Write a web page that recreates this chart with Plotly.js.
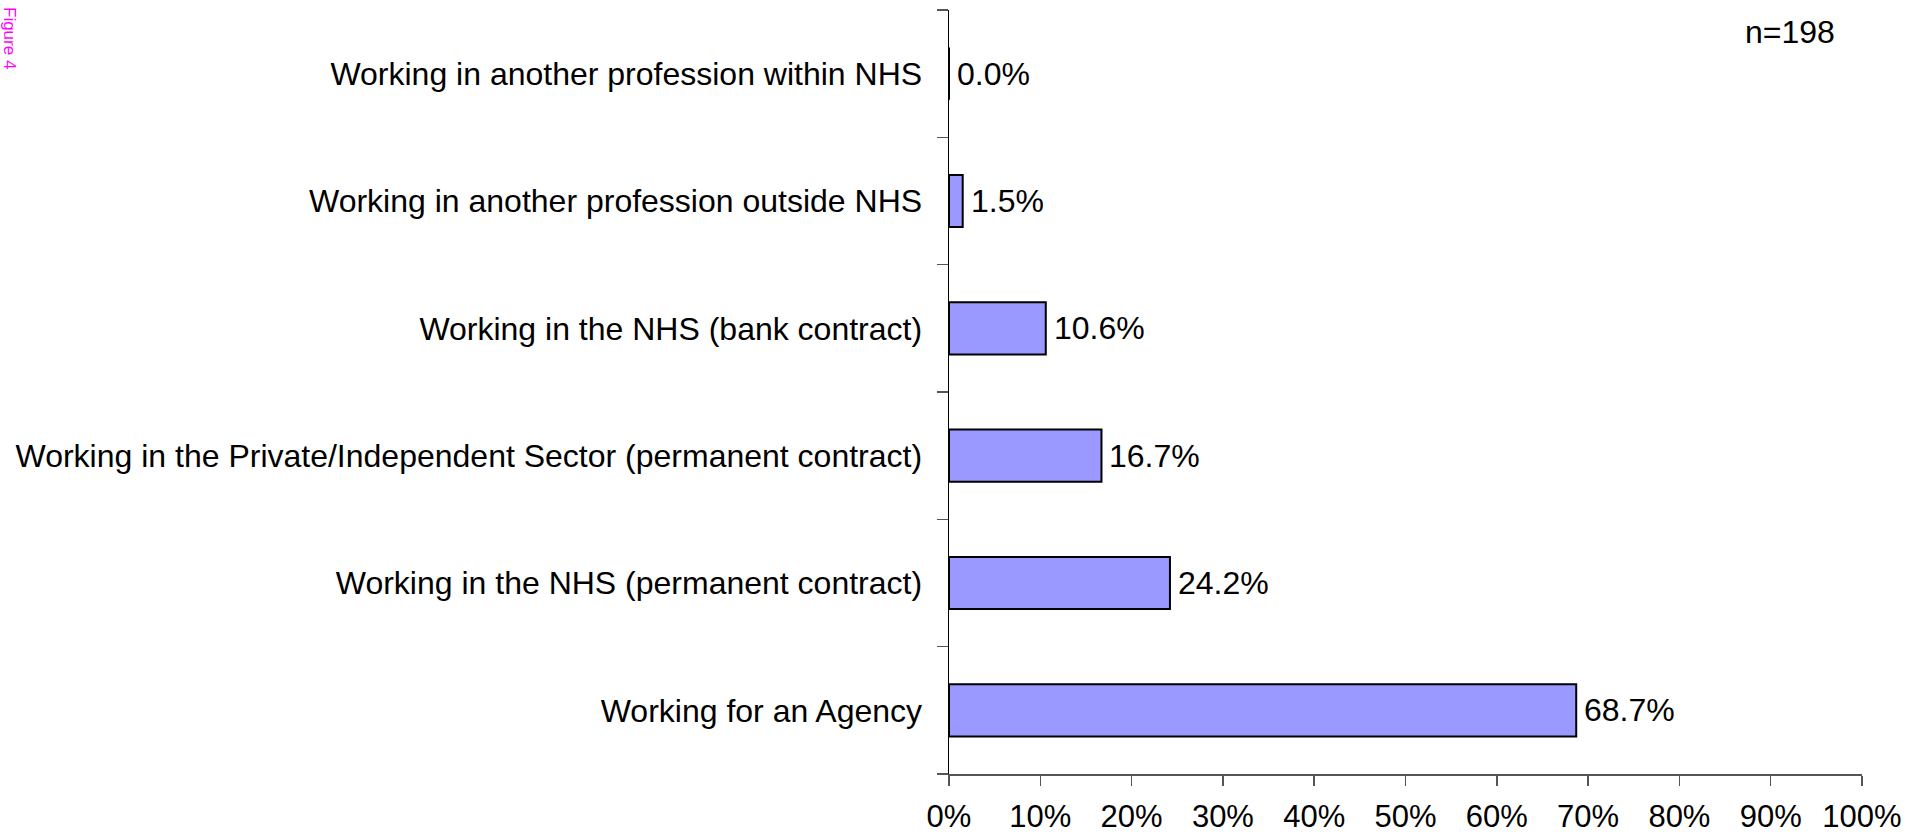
<!DOCTYPE html>
<html>
<head>
<meta charset="utf-8">
<script src="https://cdn.plot.ly/plotly-3.0.1.min.js"></script>
<style>
  html, body { margin: 0; padding: 0; background: #fff; }
  #chart { width: 1910px; height: 835px; }
</style>
</head>
<body>
<div id="chart"></div>
<script>
const categories = [
  "Working for an Agency",
  "Working in the NHS (permanent contract)",
  "Working in the Private/Independent Sector (permanent contract)",
  "Working in the NHS (bank contract)",
  "Working in another profession outside NHS",
  "Working in another profession within NHS"
];
const values = [68.7, 24.2, 16.7, 10.6, 1.5, 0.0];
const xTickValues = [0, 10, 20, 30, 40, 50, 60, 70, 80, 90, 100];
const xTickLabels = ["0%", "10%", "20%", "30%", "40%", "50%", "60%", "70%", "80%", "90%", "100%"];
const sampleNote = "n=198";
const figureLabel = "Figure 4";

const FONT = "Liberation Sans, Arial, Helvetica, sans-serif";

const trace = {
  type: "bar",
  orientation: "h",
  y: categories,
  x: values,
  marker: { color: "#9999FF", line: { color: "#000000", width: 2 } },
  width: 0.41,
  hoverinfo: "none"
};

const labelAnnotations = values.map((v, i) => ({
  x: v, y: categories[i], xref: "x", yref: "y",
  text: v.toFixed(1) + "%",
  showarrow: false, xanchor: "left", yanchor: "middle",
  xshift: 6,
  font: { family: FONT, size: 32, color: "#000" }
}));

const layout = {
  width: 1910, height: 835,
  margin: { l: 949, r: 48, t: 10, b: 61, pad: 0 },
  paper_bgcolor: "#fff", plot_bgcolor: "#fff",
  showlegend: false,
  font: { family: FONT, size: 32, color: "#000" },
  xaxis: {
    range: [0, 100],
    tickvals: xTickValues, ticktext: xTickLabels,
    ticks: "outside", ticklen: 10, tickwidth: 1.5, tickcolor: "#555",
    showline: true, linecolor: "#555", linewidth: 1.5,
    showgrid: false, zeroline: false,
    tickfont: { family: FONT, size: 31, color: "#000" },
    ticklabelstandoff: 4,
    fixedrange: true
  },
  yaxis: {
    type: "category",
    range: [-0.5, 5.5],
    ticks: "outside", tickson: "boundaries", ticklen: 11, tickwidth: 1.5, tickcolor: "#555",
    showline: true, linecolor: "#000", linewidth: 1.5,
    showgrid: false, zeroline: false,
    tickfont: { family: FONT, size: 32, color: "#000" },
    ticklabelstandoff: 19,
    fixedrange: true
  },
  annotations: labelAnnotations.concat([
    {
      xref: "paper", yref: "paper",
      x: (1790 - 949) / 913, y: (774 - 32) / 764,
      text: sampleNote, showarrow: false,
      xanchor: "center", yanchor: "middle",
      font: { family: FONT, size: 32, color: "#000" }
    },
    {
      xref: "paper", yref: "paper",
      x: (9 - 949) / 913, y: (774 - 38) / 764,
      text: figureLabel, showarrow: false, textangle: 90,
      xanchor: "center", yanchor: "middle",
      font: { family: FONT, size: 17, color: "#FF00FF" }
    }
  ])
};

Plotly.newPlot("chart", [trace], layout, { displayModeBar: false, staticPlot: true });
</script>
</body>
</html>
